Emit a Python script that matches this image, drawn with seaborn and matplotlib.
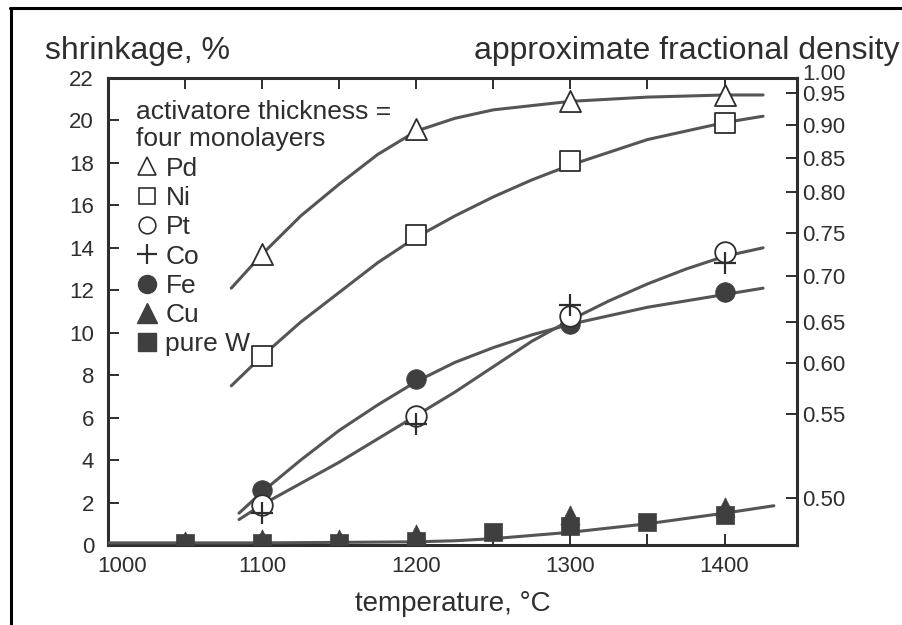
import matplotlib
matplotlib.use("Agg")
import matplotlib.pyplot as plt
import seaborn as sns
import pandas as pd
from matplotlib.lines import Line2D
import matplotlib.transforms as mtransforms

sns.set_theme(style="white")
plt.rcParams['font.family'] = ['Liberation Sans', 'DejaVu Sans']

INK = "#2e2e2e"
LINE = "#555555"
FILL = "#3f3f3f"

# ---- measured points (shrinkage, %) ----
temps_main = [1100, 1200, 1300, 1400]
pd_vals = [13.7, 19.6, 20.9, 21.2]
ni_vals = [8.9, 14.6, 18.1, 19.9]
pt_vals = [1.9, 6.1, 10.8, 13.8]
co_vals = [1.5, 5.7, 11.3, 13.3]
fe_vals = [2.6, 7.8, 10.4, 11.9]
temps_cu = [1050, 1100, 1150, 1200, 1300, 1400]
cu_vals = [0.2, 0.3, 0.3, 0.5, 1.4, 1.8]
temps_w = [1050, 1100, 1150, 1200, 1250, 1300, 1350, 1400]
w_vals = [0.1, 0.1, 0.1, 0.2, 0.6, 0.9, 1.1, 1.4]

# ---- smooth trend curves ----
curve_pd_t = [1080, 1100, 1125, 1150, 1175, 1200, 1225, 1250, 1300, 1350, 1400, 1425]
curve_pd_v = [12.1, 13.7, 15.5, 17.0, 18.4, 19.5, 20.1, 20.5, 20.9, 21.1, 21.2, 21.2]
curve_ni_t = [1080, 1100, 1125, 1150, 1175, 1200, 1225, 1250, 1275, 1300, 1350, 1400, 1425]
curve_ni_v = [7.5, 8.9, 10.5, 11.9, 13.3, 14.5, 15.5, 16.4, 17.2, 17.9, 19.1, 19.9, 20.2]
curve_fe_t = [1085, 1100, 1125, 1150, 1175, 1200, 1225, 1250, 1275, 1300, 1350, 1400, 1425]
curve_fe_v = [1.5, 2.5, 4.0, 5.4, 6.6, 7.7, 8.6, 9.3, 9.9, 10.4, 11.2, 11.8, 12.1]
curve_pt_t = [1085, 1100, 1125, 1150, 1175, 1200, 1225, 1250, 1275, 1300, 1325, 1350, 1375, 1400, 1425]
curve_pt_v = [1.2, 1.9, 2.9, 3.9, 5.0, 6.1, 7.2, 8.4, 9.6, 10.6, 11.5, 12.3, 13.0, 13.6, 14.0]
curve_w_t = [1000, 1100, 1200, 1225, 1250, 1275, 1300, 1325, 1350, 1375, 1400, 1432]
curve_w_v = [0.1, 0.1, 0.15, 0.2, 0.3, 0.45, 0.6, 0.8, 1.0, 1.25, 1.5, 1.85]

# ---- axis labels / ticks ----
x_ticks = [1000, 1100, 1200, 1300, 1400]
y_ticks = [0, 2, 4, 6, 8, 10, 12, 14, 16, 18, 20, 22]
density_labels = ["1.00", "0.95", "0.90", "0.85", "0.80", "0.75", "0.70",
                  "0.65", "0.60", "0.55", "0.50"]
density_at_shrinkage = [22.0, 21.29, 19.78, 18.23, 16.63, 14.70, 12.67,
                        10.50, 8.57, 6.17, 2.21]
legend_labels = ["Pd", "Ni", "Pt", "Co", "Fe", "Cu", "pure W"]
legend_title = "activatore thickness =\nfour monolayers"

curves = pd.concat([
    pd.DataFrame({"T": curve_pd_t, "s": curve_pd_v, "c": "Pd"}),
    pd.DataFrame({"T": curve_ni_t, "s": curve_ni_v, "c": "Ni"}),
    pd.DataFrame({"T": curve_fe_t, "s": curve_fe_v, "c": "Fe"}),
    pd.DataFrame({"T": curve_pt_t, "s": curve_pt_v, "c": "Pt"}),
    pd.DataFrame({"T": curve_w_t, "s": curve_w_v, "c": "W"}),
])

fig = plt.figure(figsize=(9.02, 6.25), dpi=100)
ax = fig.add_axes([108/902, 1-545/625, (797-108)/902, (545-78)/625])

sns.lineplot(data=curves, x="T", y="s", units="c", estimator=None, sort=False,
             color=LINE, linewidth=2.2, ax=ax, zorder=3)

common = dict(ax=ax, zorder=6, legend=False)
sns.scatterplot(x=temps_w, y=w_vals, marker="s", s=170, color=FILL,
                edgecolor=FILL, linewidth=0.5, **common)
sns.scatterplot(x=temps_cu, y=cu_vals, marker="^", s=190, color=FILL,
                edgecolor=FILL, linewidth=0.5, **common)
sns.scatterplot(x=temps_main, y=pd_vals, marker="^", s=230, color="white",
                edgecolor=INK, linewidth=1.3, **common)
sns.scatterplot(x=temps_main, y=ni_vals, marker="s", s=220, color="white",
                edgecolor=INK, linewidth=1.3, **common)
sns.scatterplot(x=temps_main, y=fe_vals, marker="o", s=200, color=FILL,
                edgecolor=FILL, linewidth=0.5, **common)
sns.scatterplot(x=temps_main, y=pt_vals, marker="o", s=220, color="white",
                edgecolor=INK, linewidth=1.3, **common)
sns.scatterplot(x=temps_main, y=co_vals, marker="+", s=260, color=INK,
                linewidth=1.6, **common)

ax.set_xlim(1000, 1447)
ax.set_ylim(0, 22)
ax.set_xticks(x_ticks)
ax.set_xticks([1050, 1150, 1250, 1350], minor=True)
ax.set_yticks(y_ticks)
ax.tick_params(axis="x", which="both", direction="in", top=True, bottom=True,
               length=8, width=1.4, color=INK, labelsize=16, labelcolor=INK, pad=8)
ax.tick_params(axis="y", direction="in", left=True, length=8, width=1.4,
               color=INK, labelsize=16, labelcolor=INK, pad=10)
for sp in ax.spines.values():
    sp.set_color(INK)
    sp.set_linewidth(2.2)
ax.set_xlabel("temperature, °C", fontsize=20, color=INK, labelpad=10)
ax.set_ylabel("")

# shift the "1000" label right a bit as in reference
lab0 = ax.get_xticklabels()[0]
lab0.set_transform(lab0.get_transform() + mtransforms.ScaledTranslation(14/100, 0, fig.dpi_scale_trans))

ax2 = ax.twinx()
ax2.set_ylim(0, 22)
ax2.set_yticks(density_at_shrinkage)
ax2.set_yticklabels(density_labels)
ax2.tick_params(axis="y", direction="in", right=True, length=8, width=1.4,
                color=INK, labelsize=16, labelcolor=INK, pad=4)
# the 1.00 label sits a little above the top spine
top_lab = ax2.get_yticklabels()[0]
top_lab.set_transform(top_lab.get_transform() + mtransforms.ScaledTranslation(0, 6/100, fig.dpi_scale_trans))
ax2.yaxis.get_major_ticks()[0].tick2line.set_visible(False)
for sp in ax2.spines.values():
    sp.set_visible(False)
ax2.grid(False)
ax.grid(False)

fig.text(45/902, 1-51/625, "shrinkage, %", fontsize=23, color=INK, va="center", ha="left")
fig.text(900/902, 1-51/625, "approximate fractional density", fontsize=23,
         color=INK, va="center", ha="right")

# legend
handles = [
    Line2D([], [], ls="", marker="^", ms=13, mfc="white", mec=INK, mew=1.2),
    Line2D([], [], ls="", marker="s", ms=12, mfc="white", mec=INK, mew=1.2),
    Line2D([], [], ls="", marker="o", ms=12, mfc="white", mec=INK, mew=1.2),
    Line2D([], [], ls="", marker="+", ms=14, mec=INK, mew=1.6),
    Line2D([], [], ls="", marker="o", ms=13, mfc=FILL, mec=FILL),
    Line2D([], [], ls="", marker="^", ms=14, mfc=FILL, mec=FILL),
    Line2D([], [], ls="", marker="s", ms=13, mfc=FILL, mec=FILL),
]
leg = ax.legend(handles, legend_labels, title=legend_title, loc="upper left",
                bbox_to_anchor=(0.022, 0.982), frameon=False, fontsize=19,
                title_fontsize=19, handlelength=0.8, handletextpad=0.3,
                labelspacing=0.2, borderpad=0, alignment="left")
for t in leg.get_texts():
    t.set_color(INK)
leg.get_title().set_color(INK)

# outer frame lines of the scanned page
fig.add_artist(Line2D([10/902, 1], [1-8/625, 1-8/625], color="black", lw=2.2,
                      transform=fig.transFigure))
fig.add_artist(Line2D([11/902, 11/902], [0, 1-8/625], color="black", lw=2.2,
                      transform=fig.transFigure))

fig.savefig("out.png", dpi=100, facecolor="white")
